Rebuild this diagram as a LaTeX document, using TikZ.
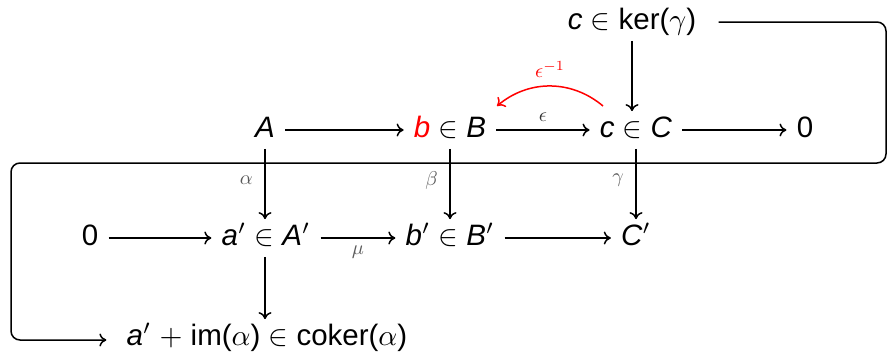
\documentclass[tikz,border=0pt]{standalone}
\usepackage{fontspec}
\setmainfont{Liberation Sans}
\usetikzlibrary{arrows.meta}
\newcommand{\vv}[1]{\textit{#1}}
\begin{document}
\begin{tikzpicture}[x=1pt,y=-1pt,
  obj/.style={font=\fontsize{10}{12}\selectfont, scale=2.95, inner xsep=3.3pt, inner ysep=1.6pt, text height=7pt, text depth=2.2pt},
  arr/.style={line width=1.5pt, -{To[length=7pt,width=13pt]}},
  lab/.style={font=\fontsize{10}{12}\selectfont, scale=2.0, text=black!65},
  snake/.style={line width=1.5pt, rounded corners=9pt}]
\useasboundingbox (0,0) rectangle (889,356);
% nodes
\node[obj] (ker) at (632,22) {\vv{c} $\in$ ker($\gamma$)};
\node[obj] (A) at (265,130) {\vv{A}};
\node[obj] (bB) at (450,130) {\textcolor{red}{\vv{b}} $\in$ \vv{B}};
\node[obj] (cC) at (636,130) {\vv{c} $\in$ \vv{C}};
\node[obj] (z1) at (805,130) {0};
\node[obj] (z0) at (90,238) {0};
\node[obj] (aA) at (266,238) {\vv{a}$'$ $\in$ \vv{A}$'$};
\node[obj] (bB2) at (450,238) {\vv{b}$'$ $\in$ \vv{B}$'$};
\node[obj] (C2) at (636,238) {\vv{C}$'$};
\node[obj] (cok) at (267,338) {\vv{a}$'$ $+$ im($\alpha$) $\in$ coker($\alpha$)};
% horizontal arrows
\draw[arr] (A) -- (bB);
\draw[arr] (bB) -- node[lab, above=0pt, text=black!80] {$\epsilon$} (cC);
\draw[arr] (cC) -- (z1);
\draw[arr] (z0) -- (aA);
\draw[arr] (aA) -- node[lab, below=0pt] {$\mu$} (bB2);
\draw[arr] (bB2) -- (C2);
% vertical arrows
\draw[arr] (ker.south) -- (ker.south |- cC.north);
\draw[arr] (A) -- node[lab, pos=0.45, left=2pt] {$\alpha$} (A |- aA.north);
\draw[arr] (bB) -- node[lab, pos=0.45, left=2pt] {$\beta$} (bB2);
\draw[arr] (cC) -- node[lab, pos=0.45, left=2pt] {$\gamma$} (C2);
\draw[arr] (aA.south -| A) -- (cok.north -| A);
% red arrow
\coordinate (rs) at (603,106);
\coordinate (re) at (497,106);
\draw[arr, red] (rs) to[bend right=40] node[lab, text=red, above=0pt] {$\epsilon^{-1}$} (re);
% snake
\coordinate (s1) at (886,22);
\coordinate (s2) at (886,163);
\coordinate (s3) at (11,163);
\coordinate (s4) at (11,340);
\draw[snake, -{To[length=7pt,width=13pt]}] (ker.east) ++(12,0) -- (s1) -- (s2) -- (s3) -- (s4) -- ([xshift=-10pt]cok.west |- s4);
\end{tikzpicture}
\end{document}
